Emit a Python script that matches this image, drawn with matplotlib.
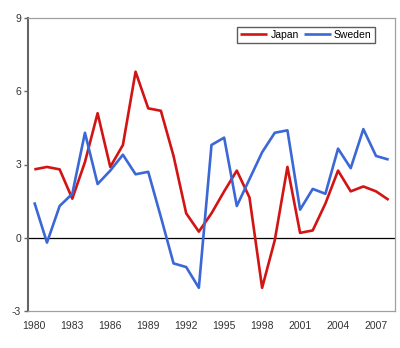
import matplotlib
matplotlib.use("Agg")
import matplotlib.pyplot as plt

years = list(range(1980, 2009))
japan = [2.8, 2.9, 2.8, 1.6, 3.1, 5.1, 2.9, 3.8, 6.8, 5.3, 5.2, 3.35, 1.0, 0.25,
         1.0, 1.9, 2.75, 1.65, -2.05, -0.1, 2.9, 0.2, 0.3, 1.4, 2.75, 1.9, 2.1, 1.9, 1.55]
sweden = [1.45, -0.2, 1.3, 1.8, 4.3, 2.2, 2.75, 3.4, 2.6, 2.7, 0.85, -1.05, -1.2, -2.05,
          3.8, 4.1, 1.3, 2.4, 3.5, 4.3, 4.4, 1.15, 2.0, 1.8, 3.65, 2.85, 4.45, 3.35, 3.2]
y_ticks = [-3, 0, 3, 6, 9]
x_tick_years = list(range(1980, 2009, 3))

plt.rcParams['font.family'] = ['Liberation Sans', 'DejaVu Sans']
plt.rcParams['axes.unicode_minus'] = False

fig = plt.figure(figsize=(4.0, 3.48), dpi=100)
ax = fig.add_axes([28 / 400, 1 - 311 / 348, 367 / 400, 293 / 348])

ax.plot(years, japan, color='#d21414', lw=1.9, label='Japan', solid_capstyle='butt')
ax.plot(years, sweden, color='#3b68d6', lw=1.9, label='Sweden', solid_capstyle='butt')
ax.axhline(0, color='black', lw=0.9, zorder=1)

ax.set_xlim(1979.5, 2008.5)
ax.set_ylim(-3, 9)
ax.set_yticks(y_ticks)
ax.set_xticks(x_tick_years)
ax.tick_params(axis='y', length=3, width=1, color='#666666', labelsize=7.5,
               labelcolor='#333333', pad=2)
ax.tick_params(axis='x', length=0, labelsize=7.5, labelcolor='#333333', pad=7)

for side in ['top', 'right', 'bottom']:
    ax.spines[side].set_color('#a0a0a0')
    ax.spines[side].set_linewidth(0.9)
ax.spines['left'].set_color('#666666')
ax.spines['left'].set_linewidth(1.5)

leg = ax.legend(loc='upper right', bbox_to_anchor=(0.945, 0.97), ncol=2,
                fontsize=7.5, frameon=True, fancybox=False, edgecolor='#333333',
                handlelength=2.6, handletextpad=0.3, columnspacing=0.5,
                borderpad=0.3, borderaxespad=0)
leg.get_frame().set_linewidth(1.0)

fig.savefig('out.png', dpi=100)
